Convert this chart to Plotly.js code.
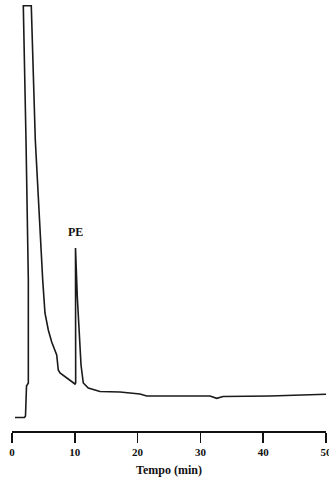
<!DOCTYPE html>
<html>
<head>
<meta charset="utf-8">
<script src="https://cdn.plot.ly/plotly-3.0.1.min.js"></script>
<style>html,body{margin:0;padding:0;background:#fff;}#chart{width:329px;height:478px;}</style>
</head>
<body>
<div id="chart"></div>
<script>
// Retention time (min) and detector response (arbitrary units)
const timeMin = [0.48, 1.99, 2.15, 2.31, 2.60, 2.60, 2.23, 1.80, 3.07, 3.71, 4.89, 5.25, 5.78, 6.32, 7.12, 7.37, 7.64, 8.71, 10.03, 10.14, 10.11, 10.40, 10.83, 10.99, 11.35, 12.15, 14.01, 17.20, 20.38, 21.45, 31.53, 32.60, 33.60, 41.08, 50.0];
const response = [13.5, 13.5, 15, 45, 48, 151, 291, 425.3, 425.3, 291, 151, 118, 101, 89, 76, 61, 58, 53, 47, 48, 183, 134, 78, 66, 48, 43, 39.5, 39, 37, 35, 35, 32.7, 34.5, 35, 36.7];
const peakLabels = ["PE"];
const peakLabelTimes = [10.11];
const peakLabelValues = [183];
const xTickVals = [0, 10, 20, 30, 40, 50];
const xTickText = ["0", "10", "20", "30", "40", "50"];

const traces = [{
  x: timeMin, y: response, type: 'scatter', mode: 'lines',
  line: {color: '#1a1a1a', width: 1.6},
  hoverinfo: 'skip'
}];

const layout = {
  width: 329, height: 478,
  margin: {l: 12, r: 3, t: 0, b: 47},
  paper_bgcolor: '#fff', plot_bgcolor: '#fff',
  showlegend: false,
  font: {family: 'Liberation Serif, Times New Roman, serif', color: '#111'},
  xaxis: {
    range: [0, 50], showgrid: false, zeroline: false,
    showline: true, linecolor: '#111', linewidth: 1.6,
    ticks: 'outside', ticklen: 10, tickwidth: 1.6, tickcolor: '#111',
    tickvals: xTickVals, ticktext: xTickText,
    ticklabeloverflow: 'allow',
    tickfont: {family: 'Liberation Serif', size: 11, color: '#111', weight: 'bold'},
    title: {text: 'Tempo (min)', font: {family: 'Liberation Serif', size: 12, color: '#111', weight: 'bold'}, standoff: 9}
  },
  yaxis: {range: [0, 431], visible: false, showgrid: false, zeroline: false},
  annotations: peakLabels.map((t, i) => ({
    x: peakLabelTimes[i], y: peakLabelValues[i], text: t,
    showarrow: false, yanchor: 'bottom', yshift: 7,
    font: {family: 'Liberation Serif', size: 12, color: '#111', weight: 'bold'}
  }))
};

Plotly.newPlot('chart', traces, layout, {staticPlot: true, displayModeBar: false});
</script>
</body>
</html>
